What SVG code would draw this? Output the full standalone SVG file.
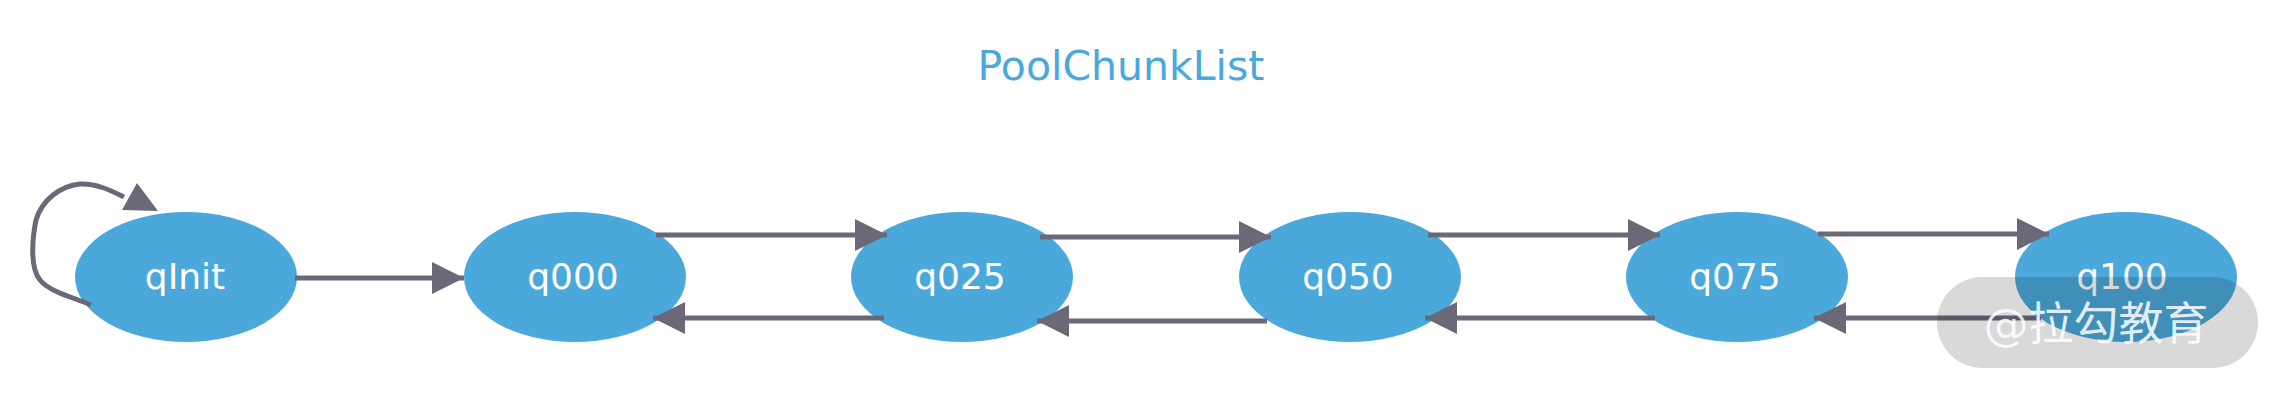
<svg xmlns="http://www.w3.org/2000/svg" width="2290" height="398" viewBox="0 0 2290 398">
<style>
.node ellipse{fill:#4BA8DA}
.node text{fill:#ffffff;font-family:"DejaVu Sans",sans-serif;font-size:36px;text-anchor:middle}
.edge{stroke:#6B6977;stroke-width:5;fill:none}
.title{fill:#4AA8DA;font-family:"DejaVu Sans",sans-serif;font-size:41px;text-anchor:middle}
</style>
<defs>
<marker id="arr" markerUnits="userSpaceOnUse" markerWidth="32" markerHeight="32" refX="32" refY="16" orient="auto">
<path d="M0,0 L32,16 L0,32 z" fill="#6B6977"/>
</marker>
</defs>
<rect width="2290" height="398" fill="#ffffff"/>
<text class="title" x="1121" y="80">PoolChunkList</text>
<g id="nodes">
<g id="qInit" class="node"><ellipse cx="186" cy="277" rx="111" ry="65"/><text x="185" y="289">qInit</text></g>
<g id="q000" class="node"><ellipse cx="575" cy="277" rx="111" ry="65"/><text x="573" y="289">q000</text></g>
<g id="q025" class="node"><ellipse cx="962" cy="277" rx="111" ry="65"/><text x="960" y="289">q025</text></g>
<g id="q050" class="node"><ellipse cx="1350" cy="277" rx="111" ry="65"/><text x="1348" y="289">q050</text></g>
<g id="q075" class="node"><ellipse cx="1737" cy="277" rx="111" ry="65"/><text x="1735" y="289">q075</text></g>
<g id="q100" class="node"><ellipse cx="2126" cy="277" rx="111" ry="65"/><text x="2122" y="289">q100</text></g>
</g>
<g id="connectors">
<path class="edge" d="M91,305 C70,296 50,292 40,280 C30,268 32,240 36,220 C42,200 60,186 80,184 C95,183 110,190 124,197"/>
<polygon points="137,183 122,210 158,211" fill="#6B6977"/>
<line class="edge" x1="295" y1="278" x2="464" y2="278" marker-end="url(#arr)"/>
<line class="edge" x1="656" y1="235" x2="887" y2="235" marker-end="url(#arr)"/>
<line class="edge" x1="884" y1="318" x2="653" y2="318" marker-end="url(#arr)"/>
<line class="edge" x1="1040" y1="237" x2="1271" y2="237" marker-end="url(#arr)"/>
<line class="edge" x1="1267" y1="321" x2="1037" y2="321" marker-end="url(#arr)"/>
<line class="edge" x1="1428" y1="235" x2="1660" y2="235" marker-end="url(#arr)"/>
<line class="edge" x1="1655" y1="318" x2="1425" y2="318" marker-end="url(#arr)"/>
<line class="edge" x1="1818" y1="234" x2="2049" y2="234" marker-end="url(#arr)"/>
<line class="edge" x1="2041" y1="318" x2="1814" y2="318" marker-end="url(#arr)"/>
</g>
<g id="watermark">
<rect x="1937" y="277" width="321" height="91" rx="45.5" fill="#000000" fill-opacity="0.15"/>
<text x="2096" y="340" font-family="'DejaVu Sans','Noto Sans CJK SC',sans-serif" font-size="45" text-anchor="middle" fill="#ffffff" fill-opacity="0.85">@拉勾教育</text>
</g>
</svg>
